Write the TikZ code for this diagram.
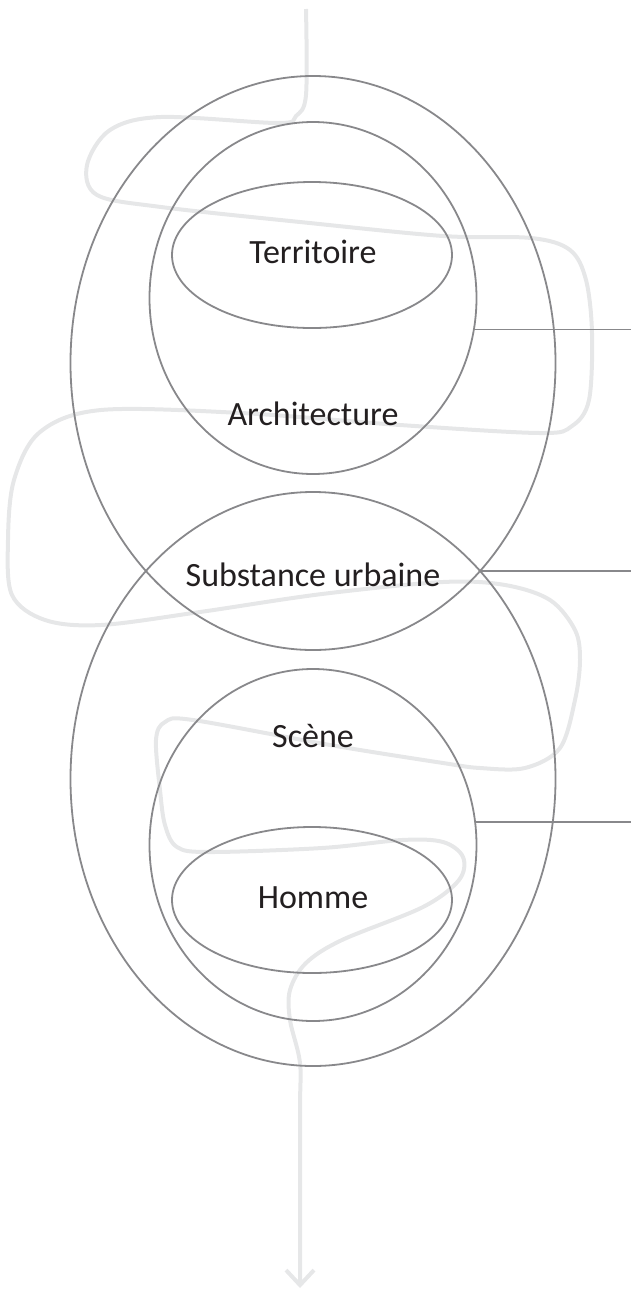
\documentclass[tikz,border=0pt]{standalone}
\usepackage{fontspec}
\setmainfont{Carlito}
\usepackage{tikz}
\usetikzlibrary{shapes.geometric,arrows.meta}

\definecolor{ringgray}{HTML}{88888B}
\definecolor{fadegray}{HTML}{E6E7E8}
\definecolor{inkgray}{HTML}{231F20}

\begin{document}
\begin{tikzpicture}[x=1pt,y=-1pt,
    ring/.style={draw=ringgray,line width=1.8pt,ellipse,inner sep=0pt},
    word/.style={text=inkgray,font=\fontsize{34}{37}\selectfont,anchor=base,inner sep=0pt},
    tick/.style={draw=ringgray,line width=1.8pt}]

\useasboundingbox (0,0) rectangle (631,1291);

% the winding thread, behind everything
\draw[fadegray,line width=4pt,-{Straight Barb[length=15pt,width=28pt]}]
    plot[smooth,tension=0.55] coordinates {
    (306,9) (306,95) (296,116) (278,123) (161,117) (110,130) (87,165) (97,195)
    (161,207) (300,222) (443,236) (531,238) (570,250) (586,280) (592,333)
    (589,400) (572,426) (540,433) (400,425) (241,413) (101,410) (40,432)
    (14,480) (8,540) (12,595) (45,620) (101,625) (200,612) (322,594) (443,582)
    (505,585) (550,600) (575,630) (580,660) (575,700) (560,748) (525,768)
    (480,768) (443,763) (330,745) (193,720) (165,722) (156,740) (160,790)
    (165,825) (177,847) (209,852) (322,848) (402,840) (443,842) (463,857)
    (459,880) (423,907) (342,940) (306,963) (290,990) (290,1020) (300,1063)
    (300,1113) (300,1288)};

% rings
\node[ring,minimum width=485pt,minimum height=574pt] (outerTop) at (313,363) {};
\node[ring,minimum width=485pt,minimum height=574pt] (outerBot) at (313,779) {};
\node[ring,minimum width=327pt,minimum height=352pt] (archi) at (313,298) {};
\node[ring,minimum width=327pt,minimum height=352pt] (scene) at (313,845) {};
\node[ring,minimum width=280pt,minimum height=146pt] (terr) at (312,255) {};
\node[ring,minimum width=280pt,minimum height=146pt] (homme) at (312,900) {};

% ticks to the right edge
\coordinate (rim) at (631,0);
\coordinate (meet) at (481.4,571);
\draw[tick] (archi.-11.6) -- (archi.-11.6 -| rim);
\draw[tick] (meet) -- (meet -| rim);
\draw[tick] (scene.8.5) -- (scene.8.5 -| rim);

% words
\node[word] (terrText) at (313,263) {Territoire};
\node[word] (archiText) at (313,425) {Architecture};
\node[word] (substText) at (313,586) {Substance urbaine};
\node[word] (sceneText) at (313,747) {Scène};
\node[word] (hommeText) at (313,908) {Homme};

\end{tikzpicture}
\end{document}
